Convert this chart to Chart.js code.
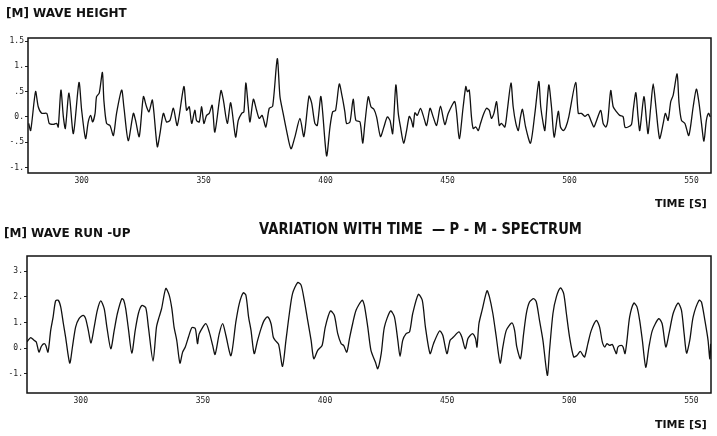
<!DOCTYPE html>
<html>
<head>
<meta charset="utf-8">
<script src="https://cdn.jsdelivr.net/npm/chart.js@4.4.0/dist/chart.umd.min.js"></script>
<style>
body { margin: 0; background: #fff; width: 717px; height: 436px; position: relative; overflow: hidden; font-family: 'DejaVu Sans', sans-serif; color: #111; }
canvas { position: absolute; left: 0; }
.lbl { position: absolute; font-weight: bold; white-space: nowrap; }
.title { transform: scaleX(0.82); transform-origin: left top; }
</style>
</head>
<body>
<canvas id="heightChart" width="717" height="200" style="top:0px"></canvas>
<canvas id="runupChart" width="717" height="218" style="top:218px"></canvas>
<div class="lbl" style="left:6px;top:6px;font-size:12px">[M] WAVE HEIGHT</div>
<div class="lbl" style="left:655px;top:197px;font-size:11px">TIME [S]</div>
<div class="lbl" style="left:4px;top:226px;font-size:12px">[M] WAVE RUN -UP</div>
<div class="lbl title" style="left:259px;top:219px;font-size:16px">VARIATION WITH TIME &nbsp;— P - M - SPECTRUM</div>
<div class="lbl" style="left:655px;top:418px;font-size:11px">TIME [S]</div>
<script>
// Time axis (s)
const timeTicks = [300, 350, 400, 450, 500, 550];
const timeMin = 278;
const timeMax = 558;

// Wave height [m]
const heightTicks = [-1, -0.5, 0, 0.5, 1, 1.5];
const heightTickLabels = ['-1.', '-.5', '0.', '.5', '1.', '1.5'];
const heightTime = [
    278.3, 279.1, 281.1, 282.2, 283.6, 285.7, 286.7, 288.4, 289.7, 290.4, 291.5, 292.5, 293.3, 294.8, 296.6, 298.9,
    300.0, 301.6, 302.7, 303.7, 304.5, 305.5, 306.1, 307.2, 308.5, 309.1, 310.2, 311.6, 313.0, 314.3, 316.4, 317.3,
    319.1, 321.2, 322.1, 323.6, 325.3, 326.6, 327.6, 329.0, 331.0, 332.1, 333.5, 334.8, 336.2, 337.6, 339.2, 341.9,
    343.0, 344.1, 345.1, 346.4, 347.1, 348.2, 349.2, 350.1, 351.2, 352.3, 353.5, 354.6, 357.1, 358.1, 359.7, 361.1,
    363.1, 364.2, 365.6, 366.5, 367.3, 368.3, 369.0, 370.4, 371.7, 372.8, 374.0, 375.5, 376.9, 378.3, 380.2, 381.3,
    382.6, 384.0, 385.8, 387.4, 389.5, 391.1, 393.2, 394.3, 395.6, 396.6, 398.1, 400.4, 401.8, 402.9, 404.1, 405.6,
    406.8, 407.9, 408.6, 410.0, 411.3, 412.4, 414.1, 415.2, 416.1, 417.5, 418.6, 419.8, 420.9, 422.5, 423.9, 425.3,
    426.4, 427.5, 428.8, 429.8, 430.7, 432.0, 433.2, 434.3, 435.2, 435.9, 436.6, 437.6, 438.9, 440.0, 441.4, 442.8,
    444.1, 445.5, 447.1, 448.9, 450.3, 453.0, 454.8, 456.4, 457.5, 458.1, 458.9, 459.8, 460.5, 461.6, 462.6, 463.5,
    464.9, 466.0, 467.1, 468.0, 469.0, 470.1, 471.2, 472.1, 473.5, 474.5, 476.0, 476.9, 478.0, 479.0, 479.9, 480.7,
    482.0, 484.0, 485.8, 487.4, 488.2, 489.2, 489.9, 491.5, 492.6, 493.7, 495.4, 496.3, 497.4, 498.5, 499.7, 502.5,
    503.6, 504.9, 506.3, 507.6, 509.0, 510.0, 511.1, 512.8, 513.8, 514.9, 515.7, 516.9, 517.9, 519.3, 520.6, 522.0,
    522.7, 524.0, 525.4, 526.1, 527.2, 528.1, 528.8, 530.5, 531.6, 532.2, 533.3, 534.3, 535.4, 536.3, 537.0, 538.4,
    539.3, 540.4, 541.5, 542.5, 544.1, 544.9, 545.9, 547.3, 548.9, 550.7, 552.0, 553.1, 554.1, 555.1, 556.1, 557.0,
    557.7
];
const heightValue = [
    -0.13, -0.27, 0.5, 0.2, 0.07, 0.07, -0.13, -0.15, -0.13, -0.2, 0.53, 0.0, -0.23, 0.47, -0.33, 0.68,
    0.13, -0.43, -0.1, 0.03, -0.1, 0.07, 0.4, 0.47, 0.88, 0.33, -0.13, -0.17, -0.37, 0.07, 0.53, 0.2,
    -0.47, 0.07, -0.07, -0.39, 0.4, 0.2, 0.1, 0.33, -0.59, -0.33, 0.07, -0.1, -0.07, 0.17, -0.17, 0.6,
    0.13, 0.2, -0.13, 0.13, -0.07, -0.1, 0.2, -0.13, 0.03, 0.07, 0.23, -0.3, 0.52, 0.33, -0.13, 0.28,
    -0.4, -0.07, 0.07, 0.1, 0.67, 0.2, -0.1, 0.35, 0.13, -0.03, 0.03, -0.2, 0.17, 0.21, 1.15, 0.4,
    0.07, -0.27, -0.63, -0.4, -0.03, -0.39, 0.41, 0.27, -0.13, -0.17, 0.4, -0.77, -0.2, 0.1, 0.13, 0.65,
    0.4, 0.1, -0.13, -0.1, 0.35, -0.07, -0.1, -0.52, -0.13, 0.4, 0.2, 0.15, 0.0, -0.39, -0.2, 0.0,
    -0.07, -0.33, 0.63, 0.07, -0.2, -0.52, -0.27, 0.01, -0.07, -0.2, 0.08, 0.03, 0.17, 0.03, -0.17, 0.17,
    0.0, -0.17, 0.21, -0.15, 0.07, 0.3, -0.43, 0.2, 0.6, 0.5, 0.53, 0.0, -0.23, -0.2, -0.27, -0.13,
    0.07, 0.17, 0.13, -0.03, 0.07, 0.3, -0.17, -0.13, -0.2, 0.13, 0.67, 0.2, -0.13, -0.27, 0.0, 0.15,
    -0.2, -0.52, 0.07, 0.7, 0.2, -0.13, -0.27, 0.63, 0.2, -0.4, 0.11, -0.2, -0.27, -0.2, 0.0, 0.68,
    0.07, 0.07, 0.01, 0.05, -0.1, -0.2, -0.07, 0.13, -0.13, -0.2, -0.07, 0.52, 0.2, 0.1, 0.03, 0.0,
    -0.2, -0.2, -0.15, 0.13, 0.48, 0.0, -0.27, 0.4, -0.1, -0.33, 0.2, 0.65, 0.2, -0.23, -0.43, -0.13,
    0.07, -0.07, 0.3, 0.43, 0.85, 0.27, -0.07, -0.13, -0.37, 0.2, 0.55, 0.27, -0.13, -0.48, -0.07, 0.07,
    0.0
];

// Wave run-up [m]
const runupTicks = [-1, 0, 1, 2, 3];
const runupTickLabels = ['-1.', '0.', '1.', '2.', '3.'];
const runupTime = [
    278.0, 279.5, 280.9, 281.8, 282.9, 283.9, 285.0, 285.7, 286.6, 287.7, 288.7, 289.7, 290.8, 291.8, 292.9, 293.8,
    295.5, 296.6, 297.9, 299.3, 301.0, 302.0, 303.1, 304.2, 305.5, 306.8, 308.2, 309.6, 310.7, 312.3, 313.7, 315.0,
    316.8, 317.6, 318.4, 319.5, 320.9, 322.3, 323.6, 325.0, 326.6, 327.7, 329.6, 331.0, 332.1, 333.1, 334.8, 336.2,
    337.3, 338.2, 339.3, 340.6, 341.7, 342.8, 344.1, 345.5, 346.9, 347.8, 348.5, 351.2, 352.6, 354.0, 355.0, 356.7,
    358.1, 359.4, 361.5, 363.5, 364.9, 366.5, 367.6, 368.7, 369.7, 371.0, 372.4, 373.8, 375.1, 376.5, 377.9, 378.8,
    379.6, 381.0, 382.6, 384.0, 385.4, 386.7, 388.8, 390.2, 391.5, 392.9, 394.3, 395.4, 397.0, 398.8, 400.1, 402.2,
    403.8, 405.2, 406.6, 407.6, 408.9, 410.0, 411.3, 412.7, 415.2, 416.1, 417.5, 418.8, 420.6, 421.6, 423.0, 424.3,
    426.8, 428.4, 429.8, 430.7, 431.8, 433.2, 434.6, 435.9, 438.2, 439.8, 441.1, 443.0, 444.4, 446.9, 448.2, 449.9,
    451.2, 452.6, 454.8, 456.0, 457.4, 458.5, 459.5, 460.5, 461.6, 462.2, 463.0, 464.3, 466.3, 467.3, 468.7, 470.1,
    471.7, 472.8, 474.2, 476.5, 477.6, 478.5, 480.0, 481.3, 482.4, 483.7, 485.4, 486.5, 487.8, 489.2, 491.0, 491.9,
    493.3, 494.7, 496.4, 497.7, 498.8, 500.1, 501.8, 503.1, 504.5, 505.6, 506.3, 507.6, 509.0, 511.1, 512.4, 513.5,
    514.5, 515.4, 516.5, 517.6, 518.6, 519.3, 519.9, 521.3, 522.0, 522.8, 523.6, 524.7, 526.4, 527.7, 528.8, 529.9,
    531.3, 532.6, 534.0, 536.6, 538.0, 539.5, 540.8, 542.5, 544.5, 545.9, 547.0, 548.0, 549.3, 550.7, 553.1, 554.1,
    555.5, 556.8, 557.5, 557.9
];
const runupValue = [
    0.24, 0.41, 0.3, 0.24, -0.16, 0.07, 0.17, 0.1, -0.16, 0.69, 1.22, 1.84, 1.87, 1.61, 0.95, 0.43,
    -0.59, 0.04, 0.82, 1.15, 1.28, 1.15, 0.69, 0.2, 0.82, 1.48, 1.84, 1.54, 0.82, -0.03, 0.69, 1.35,
    1.93, 1.87, 1.54, 0.76, -0.2, 0.69, 1.35, 1.66, 1.58, 0.82, -0.51, 0.82, 1.22, 1.54, 2.33, 2.07,
    1.54, 0.82, 0.3, -0.59, -0.16, 0.04, 0.43, 0.8, 0.76, 0.17, 0.56, 0.95, 0.63, 0.1, -0.25, 0.56,
    0.95, 0.5, -0.3, 1.02, 1.74, 2.16, 2.07, 1.22, 0.69, -0.22, 0.3, 0.76, 1.08, 1.22, 0.95, 0.43,
    0.3, 0.14, -0.72, 0.3, 1.35, 2.13, 2.56, 2.46, 1.87, 1.08, 0.3, -0.42, -0.09, 0.1, 0.82, 1.45,
    1.28, 0.56, 0.17, 0.1, -0.16, 0.37, 0.95, 1.48, 1.87, 1.67, 0.82, -0.09, -0.55, -0.81, -0.22, 0.82,
    1.45, 1.22, 0.3, -0.33, 0.3, 0.56, 0.63, 1.35, 2.1, 1.87, 0.82, -0.22, 0.17, 0.67, 0.5, -0.22,
    0.3, 0.43, 0.63, 0.43, -0.03, 0.37, 0.5, 0.56, 0.37, 0.04, 0.95, 1.48, 2.24, 2.0, 1.35, 0.43,
    -0.59, 0.04, 0.69, 0.98, 0.69, 0.04, -0.42, 0.56, 1.35, 1.8, 1.93, 1.8, 1.08, 0.3, -1.07, -0.09,
    1.35, 2.0, 2.35, 2.13, 1.35, 0.43, -0.35, -0.29, -0.13, -0.29, -0.35, 0.17, 0.69, 1.08, 0.82, 0.24,
    0.04, 0.17, 0.1, 0.14, -0.09, -0.22, 0.04, 0.1, 0.04, -0.22, 0.3, 1.22, 1.76, 1.61, 1.08, 0.3,
    -0.75, 0.04, 0.69, 1.15, 0.95, 0.04, 0.56, 1.35, 1.76, 1.48, 0.56, -0.2, 0.3, 1.22, 1.87, 1.8,
    1.08, 0.3, -0.42, 0.17
];

// Рамка вокруг области графика
const framePlugin = {
    id: 'frame',
    afterDraw(chart) {
        const a = chart.chartArea;
        const ctx = chart.ctx;
        ctx.save();
        ctx.strokeStyle = '#111';
        ctx.lineWidth = 1.5;
        ctx.strokeRect(a.left, a.top, a.right - a.left, a.bottom - a.top);
        ctx.restore();
    }
};

function makeChart(id, times, values, yMin, yMax, yTicks, yLabels, yWidth, xHeight) {
    const points = times.map((t, i) => ({ x: t, y: values[i] }));
    return new Chart(document.getElementById(id), {
        type: 'line',
        data: {
            datasets: [{
                data: points,
                borderColor: '#111',
                borderWidth: 1.3,
                pointRadius: 0,
                tension: 0.25,
                fill: false
            }]
        },
        options: {
            responsive: false,
            animation: false,
            layout: { padding: { top: 38, right: 6, left: 0, bottom: 0 } },
            plugins: { legend: { display: false }, tooltip: { enabled: false } },
            scales: {
                x: {
                    type: 'linear',
                    min: timeMin,
                    max: timeMax,
                    afterBuildTicks: (scale) => { scale.ticks = timeTicks.map(v => ({ value: v })); },
                    afterFit: (scale) => { scale.height = xHeight; },
                    grid: { display: false, drawTicks: false },
                    border: { display: false },
                    ticks: {
                        color: '#222',
                        padding: 3,
                        maxRotation: 0,
                        font: { family: 'DejaVu Sans Mono', size: 8 },
                        callback: (v) => String(v)
                    }
                },
                y: {
                    min: yMin,
                    max: yMax,
                    afterBuildTicks: (scale) => { scale.ticks = yTicks.map(v => ({ value: v })); },
                    afterFit: (scale) => { scale.width = yWidth; },
                    grid: { drawOnChartArea: false, drawTicks: true, tickLength: 3, color: '#222' },
                    border: { display: false },
                    ticks: {
                        color: '#222',
                        padding: 1,
                        font: { family: 'DejaVu Sans Mono', size: 8 },
                        callback: (v, i) => yLabels[i]
                    }
                }
            }
        },
        plugins: [framePlugin]
    });
}

makeChart('heightChart', heightTime, heightValue, -1.11, 1.56, heightTicks, heightTickLabels, 28, 27);
makeChart('runupChart', runupTime, runupValue, -1.76, 3.6, runupTicks, runupTickLabels, 27, 43);
</script>
</body>
</html>
